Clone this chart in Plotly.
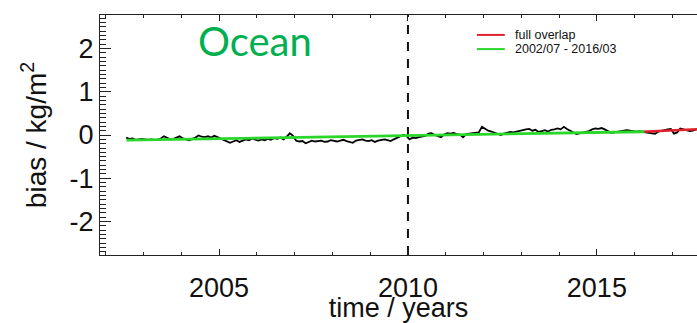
import numpy as np
import plotly.graph_objects as go

# Monthly ocean bias series, July 2002 onwards (kg/m^2)
start_year = 2002.5 + 1 / 24
bias_monthly = [
    # 2002 (Jul-Dec)
    -0.06, -0.09, -0.08, -0.11, -0.10, -0.09,
    # 2003
    -0.10, -0.11, -0.10, -0.12, -0.11, -0.08, -0.03, -0.07, -0.10, -0.09, -0.06, -0.03,
    # 2004
    -0.08, -0.10, -0.12, -0.09, -0.06, -0.01, -0.04, -0.05, -0.03, -0.06, -0.02, -0.05,
    # 2005
    -0.08, -0.11, -0.14, -0.18, -0.15, -0.12, -0.16, -0.13, -0.10, -0.12, -0.08, -0.11,
    # 2006
    -0.13, -0.10, -0.12, -0.09, -0.11, -0.07, -0.09, -0.06, -0.10, -0.04, 0.04, -0.02,
    # 2007
    -0.13, -0.15, -0.14, -0.19, -0.16, -0.13, -0.15, -0.14, -0.13, -0.16, -0.15, -0.12,
    # 2008
    -0.14, -0.15, -0.13, -0.11, -0.14, -0.16, -0.18, -0.13, -0.12, -0.10, -0.13, -0.14,
    # 2009
    -0.12, -0.16, -0.13, -0.11, -0.10, -0.12, -0.14, -0.10, -0.07, -0.03, 0.00, -0.02,
    # 2010
    -0.10, -0.06, -0.07, -0.05, -0.04, -0.02, 0.03, 0.04, 0.00, -0.03, -0.05, 0.01,
    # 2011
    0.04, 0.03, 0.05, 0.02, 0.01, -0.05, 0.02, 0.03, 0.04, 0.05, 0.06, 0.19,
    # 2012
    0.14, 0.10, 0.08, 0.05, 0.02, 0.00, 0.03, 0.05, 0.07, 0.06, 0.08, 0.09,
    # 2013
    0.11, 0.13, 0.14, 0.10, 0.12, 0.07, 0.09, 0.11, 0.08, 0.12, 0.13, 0.15,
    # 2014
    0.13, 0.19, 0.14, 0.10, 0.06, 0.02, 0.04, 0.06, 0.07, 0.09, 0.13, 0.15,
    # 2015
    0.14, 0.16, 0.13, 0.09, 0.05, 0.06, 0.07, 0.08, 0.09, 0.11, 0.10, 0.09,
    # 2016
    0.08, 0.09, 0.07, 0.06, 0.05, 0.04, 0.03, 0.08, 0.10, 0.12, 0.13, 0.14,
    # 2017
    0.03, 0.06, 0.15, 0.13, 0.11, 0.09, 0.10, 0.13, 0.14, 0.12, 0.15, 0.13,
    # 2018
    0.14, 0.12,
]

# Linear trends: full overlap and the 2002/07 - 2016/03 window
trend_full_x = [2016.2, 2017.9]
trend_full_y = [0.075, 0.14]
trend_window_x = [2002.55, 2016.25]
trend_window_y = [-0.12, 0.075]

# Reference epoch marker
epoch_year = 2010

x_range = [2001.85, 2017.65]
y_range = [-2.77, 2.77]
y_ticks = [-2, -1, 0, 1, 2]
x_ticks = [2005, 2010, 2015]

time_axis = start_year + np.arange(len(bias_monthly)) / 12.0

FONT = "Liberation Sans, Arial, Helvetica, sans-serif"

fig = go.Figure()

fig.add_trace(go.Scatter(
    x=[epoch_year, epoch_year], y=y_range, mode="lines",
    line=dict(color="#111111", width=2, dash="9px,8px"),
    showlegend=False, hoverinfo="skip",
))
fig.add_trace(go.Scatter(
    x=time_axis, y=bias_monthly, mode="lines",
    line=dict(color="#000000", width=1.8),
    showlegend=False,
))
fig.add_trace(go.Scatter(
    x=trend_full_x, y=trend_full_y, mode="lines",
    line=dict(color="#e0202a", width=2.5),
    name="full overlap", showlegend=False,
))
fig.add_trace(go.Scatter(
    x=trend_window_x, y=trend_window_y, mode="lines",
    line=dict(color="#2bd62b", width=2.8),
    name="2002/07 - 2016/03", showlegend=False,
))

# Legend drawn as short line samples with labels
legend_items = [("full overlap", "#e0202a"), ("2002/07 - 2016/03", "#2bd62b")]
leg_x0, leg_x1, leg_tx = 0.6315, 0.678, 0.692
leg_y = [0.917, 0.858]
for (label, color), yy in zip(legend_items, leg_y):
    fig.add_shape(type="line", xref="paper", yref="paper",
                  x0=leg_x0, x1=leg_x1, y0=yy, y1=yy,
                  line=dict(color=color, width=2))
    fig.add_annotation(xref="paper", yref="paper", x=leg_tx, y=yy,
                       text=label, showarrow=False, xanchor="left", yanchor="middle",
                       font=dict(family=FONT, size=12.5, color="#111111"))

fig.add_annotation(xref="paper", yref="paper", x=0.26, y=0.89,
                   text="Ocean", showarrow=False, xanchor="center", yanchor="middle",
                   font=dict(family="Lato, Open Sans, sans-serif", size=40, color="#00b050"))

fig.update_layout(
    width=697, height=323,
    margin=dict(l=100, r=0, t=15, b=68),
    paper_bgcolor="white", plot_bgcolor="white",
    font=dict(family=FONT, size=28, color="#111111"),
    showlegend=False,
)

fig.update_xaxes(
    range=x_range, tickvals=x_ticks, ticktext=[str(v) for v in x_ticks],
    showgrid=False, zeroline=False,
    showline=True, linecolor="#222222", linewidth=1.2, mirror="ticks",
    ticks="inside", ticklen=6, tickwidth=1.2, tickcolor="#222222",
    minor=dict(dtick=1, tick0=2000, ticks="inside", ticklen=3, tickwidth=1, tickcolor="#222222"),
    tickfont=dict(family=FONT, size=27), ticklabelstandoff=8,
    title=dict(text="time / years", font=dict(family=FONT, size=27), standoff=3),
)
fig.update_yaxes(
    range=y_range, tickvals=y_ticks, ticktext=[str(v) for v in y_ticks],
    showgrid=False, zeroline=False,
    showline=True, linecolor="#222222", linewidth=1.2, mirror=False,
    ticks="inside", ticklen=11, tickwidth=1.2, tickcolor="#222222",
    minor=dict(dtick=0.1, tick0=0, ticks="inside", ticklen=6, tickwidth=1, tickcolor="#222222"),
    tickfont=dict(family=FONT, size=27),
    title=dict(text="bias / kg/m<sup>2</sup>", font=dict(family=FONT, size=28), standoff=14),
)

fig.write_html("out.html")
